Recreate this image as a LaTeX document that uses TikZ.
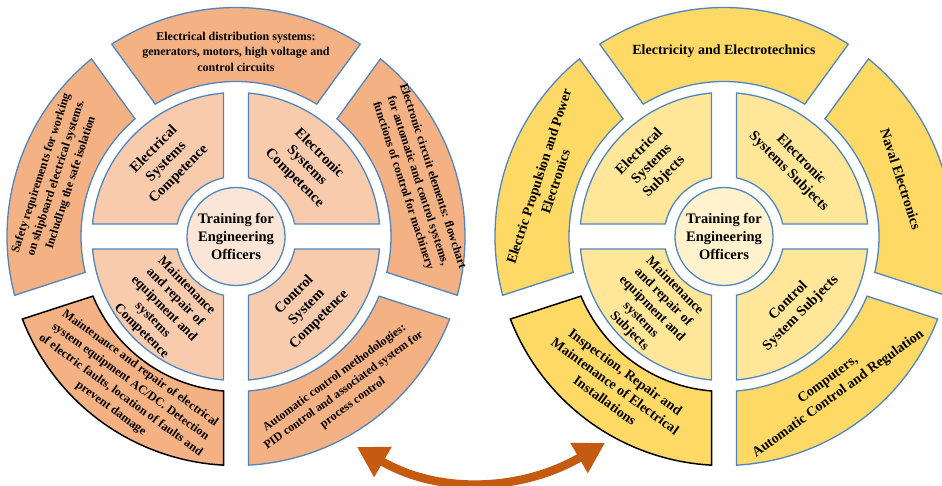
\documentclass[tikz,border=0pt]{standalone}
\usepackage{fontspec}
\setmainfont{Liberation Serif}
\usetikzlibrary{arrows.meta}
\definecolor{outerorange}{HTML}{F4B183}
\definecolor{innerorange}{HTML}{F8CBAD}
\definecolor{hubpeach}{HTML}{FBE5D6}
\definecolor{outergold}{HTML}{FFD966}
\definecolor{innergold}{HTML}{FFE699}
\definecolor{hubcream}{HTML}{FFF2CC}
\definecolor{edgeblue}{HTML}{5085C0}
\definecolor{arrowrust}{HTML}{C55A11}

% ring piece: inner radius, outer radius, mid angle, half span, style
\newcommand{\ringpart}[5]{%
    \pgfmathsetmacro\angout{asin(12.5/#2)}%
    \pgfmathsetmacro\angin{asin(12.5/#1)}%
    \draw[#5] ({#3-#4+\angout}:#2)
        arc[start angle={#3-#4+\angout}, end angle={#3+#4-\angout}, radius=#2]
        -- ({#3+#4-\angin}:#1)
        arc[start angle={#3+#4-\angin}, end angle={#3-#4+\angin}, radius=#1]
        -- cycle;
}

\begin{document}
\begin{tikzpicture}[
    x=1pt, y=1pt,
    part/.style={
        draw=edgeblue,
        line width=1.3pt,
        fill=#1
    },
    darkpart/.style={
        draw=black,
        line width=1.5pt,
        fill=#1
    },
    hub/.style={
        circle,
        draw=edgeblue,
        line width=1.3pt,
        fill=#1,
        minimum size=98pt,
        inner sep=0pt,
        align=center,
        font=\bfseries\fontsize{14.5}{18}\selectfont
    },
    smalltext/.style={
        align=center,
        inner sep=0pt,
        font=\bfseries\fontsize{12}{15.5}\selectfont
    },
    bigtext/.style={
        align=center,
        inner sep=0pt,
        font=\bfseries\fontsize{14}{17.5}\selectfont
    },
    quadtext/.style={
        align=center,
        inner sep=0pt,
        font=\bfseries\fontsize{14.5}{17.5}\selectfont
    },
    listtext/.style={
        align=center,
        inner sep=0pt,
        font=\bfseries\fontsize{13.5}{16}\selectfont
    },
    linkarrow/.style={
        {Triangle[length=30pt,width=33pt]}-{Triangle[length=30pt,width=33pt]},
        line width=8.5pt,
        draw=arrowrust
    }
]

\clip (0,0) rectangle (942,-486);

\coordinate (lc) at (236,-236.5);
\coordinate (rc) at (724,-236.5);

% competences
\begin{scope}[shift={(lc)}]
    \ringpart{155}{229}{90}{36}{part=outerorange}
    \ringpart{155}{229}{162}{36}{part=outerorange}
    \ringpart{155}{229}{18}{36}{part=outerorange}
    \ringpart{155}{229}{306}{36}{part=outerorange}
    \ringpart{155}{229}{234}{36}{darkpart=outerorange}
    \ringpart{60}{144}{45}{45}{part=innerorange}
    \ringpart{60}{144}{135}{45}{part=innerorange}
    \ringpart{60}{144}{225}{45}{part=innerorange}
    \ringpart{60}{144}{315}{45}{part=innerorange}

\node[hub=hubpeach] (lhub) at (0,0) {Training for\\Engineering\\Officers};

\node[smalltext] (ldist) at (90:185)
{Electrical distribution systems:\\generators, motors, high voltage and\\control circuits};
\node[smalltext, rotate=72] (lsafe) at (162:189)
{Safety requirements for working\\on shipboard electrical systems.\\IncludIng the safe isolation};
\node[smalltext, rotate=-72] (lcirc) at (17:190)
{Electronic circuit elements: flowchart\\for automatic and control systems,\\functions of control for machinery};
\node[smalltext, rotate=-36, font=\bfseries\fontsize{12.2}{16.5}\selectfont] (lrepair) at (234:188)
{Maintenance and repair of electrical\\system equipment AC/DC. Detection\\of electric faults, location of faults and\\prevent damage};
\node[smalltext, rotate=36] (lauto) at (305:188)
{Automatic control methodologies:\\PID control and associated system for\\process control};

\node[quadtext, rotate=45] (lelec) at (133:102) {Electrical\\Systems\\Competence};
\node[quadtext, rotate=-45] (ltron) at (45:100) {Electronic\\Systems\\Competence};
\node[listtext, rotate=-45] (lmaint) at (225:102)
{Maintenance\\and repair of\\equipment and\\systems\\Competence};
\node[quadtext, rotate=45] (lctrl) at (315:100) {Control\\System\\Competence};
\end{scope}

% subjects
\begin{scope}[shift={(rc)}]
    \ringpart{155}{229}{90}{36}{part=outergold}
    \ringpart{155}{229}{162}{36}{part=outergold}
    \ringpart{155}{229}{18}{36}{part=outergold}
    \ringpart{155}{229}{306}{36}{part=outergold}
    \ringpart{155}{229}{234}{36}{darkpart=outergold}
    \ringpart{60}{144}{45}{45}{part=innergold}
    \ringpart{60}{144}{135}{45}{part=innergold}
    \ringpart{60}{144}{225}{45}{part=innergold}
    \ringpart{60}{144}{315}{45}{part=innergold}

\node[hub=hubcream] (rhub) at (0,0) {Training for\\Engineering\\Officers};

\node[bigtext] (rtechn) at (90:185) {Electricity and Electrotechnics};
\node[bigtext, rotate=72] (rprop) at (162:186)
{Electric Propulsion and Power\\Electronics};
\node[bigtext, rotate=-72] (rnaval) at (18:186) {Naval Electronics};
\node[bigtext, rotate=-36] (rinsp) at (234:185)
{Inspection, Repair and\\Maintenance of Electrical\\Installations};
\node[bigtext, rotate=36] (rcomp) at (306:186)
{Computers,\\Automatic Control and Regulation};

\node[quadtext, rotate=45] (relec) at (135:102) {Electrical\\Systems\\Subjects};
\node[quadtext, rotate=-45] (rtron) at (45:100) {Electronic\\Systems Subjects};
\node[listtext, rotate=-45] (rmaint) at (225:102)
{Maintenance\\and repair of\\equipment and\\systems\\Subjects};
\node[quadtext, rotate=45] (rctrl) at (315:100) {Control\\System Subjects};
\end{scope}

\coordinate (ltip) at (357,-447);
\coordinate (rtip) at (605,-443);
\draw[linkarrow] (ltip) .. controls (440,-495) and (522,-491) .. (rtip);

\end{tikzpicture}
\end{document}
